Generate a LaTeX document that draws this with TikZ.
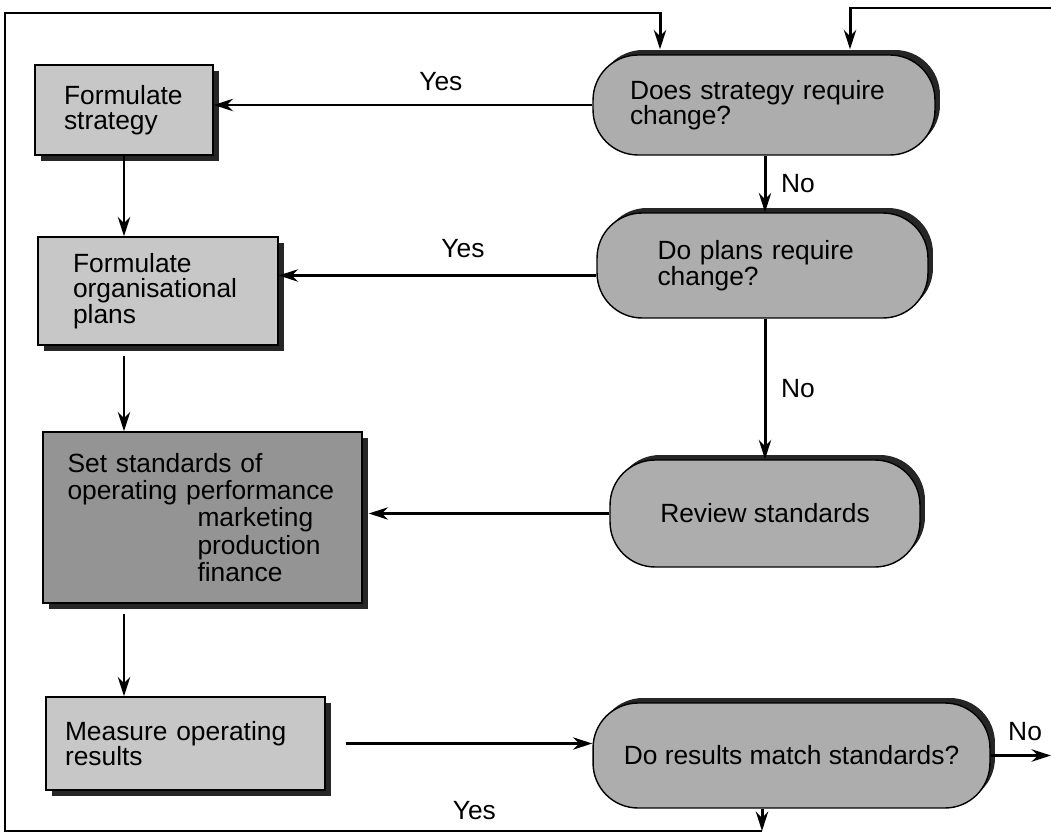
\documentclass[tikz,border=0pt]{standalone}
\usepackage{fontspec}
\setmainfont{Liberation Sans}
\usetikzlibrary{positioning}
\usetikzlibrary{shadows}
\usetikzlibrary{arrows.meta}
\tikzset{
    stepbox/.style = {rectangle, draw=black, line width=0.8pt, fill=black!22, align=left, inner sep=0pt, drop shadow={shadow xshift=0.12cm, shadow yshift=-0.12cm, fill=black!85, opacity=1}},
    darkbox/.style = {stepbox, fill=black!42},
    askbox/.style = {rectangle, rounded corners=0.9cm, draw=black, line width=0.8pt, fill=black!32, align=left, inner sep=0pt, drop shadow={shadow xshift=0.1cm, shadow yshift=0.1cm, fill=black!85, opacity=1}},
    flow/.style = {-{Stealth[length=11pt,width=7pt]}, line width=1.7pt},
}

\begin{document}
\begin{tikzpicture}[
	x=0.02cm,
	y=-0.02cm,
	font=\fontsize{15}{14.5}\selectfont
]
\useasboundingbox (0,0) rectangle (1051,834);
\node[stepbox, minimum width=3.56cm, minimum height=1.8cm, text width=2.4cm] at (124,110) (strat) {Formulate\\strategy};
\node[stepbox, minimum width=4.8cm, minimum height=2.16cm, text width=3.4cm] at (158,291) (plans) {Formulate\\organisational\\plans};
\node[darkbox, minimum width=6.38cm, minimum height=3.42cm, text width=5.4cm, font=\fontsize{15}{15.5}\selectfont] at (202.5,517.5) (std) {Set standards of\\operating performance\\\hspace*{2.6cm}marketing\\\hspace*{2.6cm}production\\\hspace*{2.6cm}finance};
\node[stepbox, minimum width=5.58cm, minimum height=1.86cm, text width=4.82cm] at (185.5,743.5) (meas) {Measure operating\\results};
%
\node[askbox, minimum width=6.84cm, minimum height=2.0cm, text width=5.36cm] at (764,105) (chstrat) {Does strategy require\\change?};
\node[askbox, minimum width=6.62cm, minimum height=2.1cm, text width=4.2cm] at (762.5,265.5) (chplans) {Do plans require\\change?};
\node[askbox, minimum width=6.2cm, minimum height=2.14cm, align=center] at (765,513.5) (review) {Review standards};
\node[askbox, minimum width=7.94cm, minimum height=2.1cm, align=center] at (791.5,755.5) (match) {Do results match standards?};
%
\coordinate (nout) at (1051,757);
\coordinate (ybot) at (762,831);
\coordinate (ycorner) at (5,831);
\coordinate (ytop) at (5,13);
\coordinate (yin) at (660,13);
\coordinate (nin) at (1051,8);
\coordinate (nturn) at (850,8);
%
\draw[flow] (chstrat.west) -- (chstrat.west -| strat.east) node[pos=0.4, above=4pt] {Yes};
\draw[flow] (chstrat.south -| review.north) -- (review.north |- chplans.north) node[midway, right=5pt] {No};
\draw[flow] ([yshift=-0.2cm]chplans.west) -- ([yshift=-0.2cm]chplans.west -| plans.east) node[pos=0.42, above=6pt] {Yes};
\draw[flow] (chplans.south -| review.north) -- (review.north) node[midway, right=5pt] {No};
\draw[flow] (review.west) -- ([xshift=0.12cm]review.west -| std.east);
%
\draw[flow] (strat.south) -- (strat.south |- plans.north);
\draw[flow, shorten <=0.2cm] (strat.south |- plans.south) -- (strat.south |- std.north);
\draw[flow, shorten <=0.2cm] (strat.south |- std.south) -- (strat.south |- meas.north);
\draw[flow, shorten <=0.4cm] (meas.east) -- (meas.east -| match.west);
%
\draw[flow] (match.east) -- (match.east -| nout) node[pos=0.57, above=4pt] {No};
\draw[flow] (ybot |- match.south) -- (ybot);
\draw[flow, shorten >=0.1cm] (ybot) -- (ycorner) node[pos=0.38, above=2pt] {Yes} -- (ytop) -| (yin |- chstrat.north);
\draw[flow, shorten >=0.1cm] (nin) -- (nturn) -- (nturn |- chstrat.north);
\end{tikzpicture}
\end{document}
